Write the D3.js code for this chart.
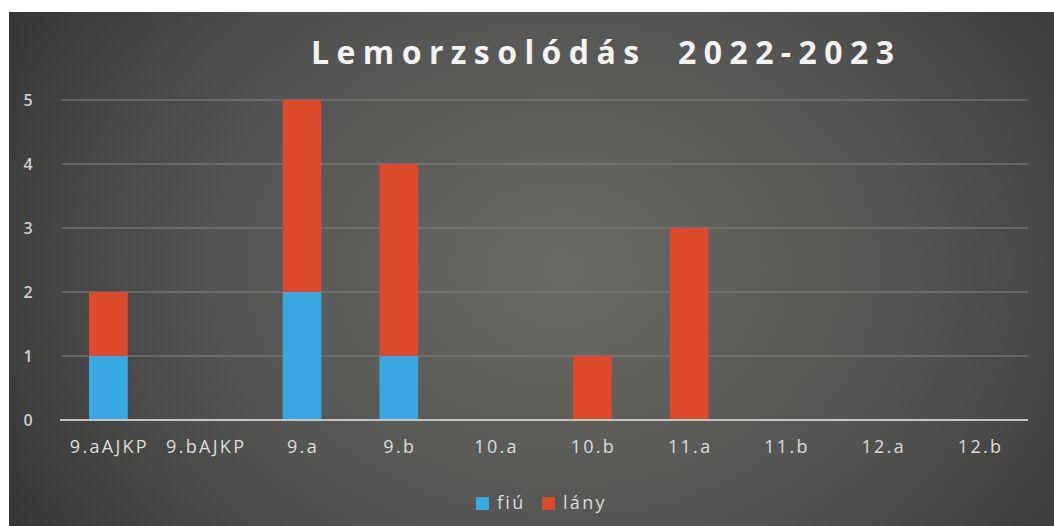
<!DOCTYPE html>
<html><head><meta charset="utf-8">
<script src="https://cdn.jsdelivr.net/npm/d3@7"></script>
<style>html,body{margin:0;padding:0;background:#fff;}svg{display:block;}</style>
</head><body>
<svg id="chart" width="1054" height="526"></svg>
<script>
const categories = ["9.aAJKP","9.bAJKP","9.a","9.b","10.a","10.b","11.a","11.b","12.a","12.b"];
const fiu  = [1,0,2,1,0,0,0,0,0,0];
const lany = [1,0,3,3,0,1,3,0,0,0];
const seriesNames = ["fiú","lány"];
const seriesColors = ["#38a8e0","#dd4a2b"];
const yTicks = [0,1,2,3,4,5];
const title = "Lemorzsolódás  2022-2023";

const W = 1054, H = 526;
const svg = d3.select("#chart");
const defs = svg.append("defs");
const grad = defs.append("radialGradient").attr("id","bg")
  .attr("cx","0.53").attr("cy","0.5").attr("r","0.62")
  .attr("gradientTransform","translate(0.53,0.5) scale(1,1.6) translate(-0.53,-0.5)");
grad.append("stop").attr("offset","0%").attr("stop-color","#696965");
grad.append("stop").attr("offset","55%").attr("stop-color","#545452");
grad.append("stop").attr("offset","100%").attr("stop-color","#363636");

svg.append("rect").attr("x",9).attr("y",12).attr("width",W-9).attr("height",H-12).attr("fill","url(#bg)");

const margin = {left:60, right:26, top:100, bottom:106};
const x = d3.scaleBand().domain(categories).range([margin.left, W-margin.right]).paddingInner(0.6).paddingOuter(0.3);
const y = d3.scaleLinear().domain([0,5]).range([H-margin.bottom, margin.top]);

// gridlines
svg.append("g").selectAll("line").data(yTicks.filter(d=>d>0)).join("line")
  .attr("x1",margin.left+2).attr("x2",W-margin.right)
  .attr("y1",d=>y(d)).attr("y2",d=>y(d))
  .attr("stroke","#82827e").attr("stroke-width",1.2);

// y labels
svg.append("g").selectAll("text").data(yTicks).join("text")
  .attr("x",28).attr("y",d=>y(d)).attr("dy","0.35em")
  .attr("text-anchor","middle").attr("fill","#cfcfcf")
  .style("font-family","'Open Sans',sans-serif").style("font-size","16px").style("font-weight","600")
  .text(d=>d);

// stacked bars
const data = categories.map((c,i)=>({cat:c, fiú:fiu[i], lány:lany[i]}));
const stack = d3.stack().keys(seriesNames)(data);
svg.append("g").selectAll("g").data(stack).join("g")
  .attr("fill",(d,i)=>seriesColors[i])
  .selectAll("rect").data(d=>d.filter(p=>p[1]-p[0]>0)).join("rect")
  .attr("x",d=>x(d.data.cat)).attr("width",x.bandwidth())
  .attr("y",d=>y(d[1])).attr("height",d=>y(d[0])-y(d[1]));

// x axis line
svg.append("line").attr("x1",margin.left).attr("x2",W-margin.right)
  .attr("y1",y(0)).attr("y2",y(0)).attr("stroke","#c4c4c4").attr("stroke-width",2);

// x labels
svg.append("g").selectAll("text").data(categories).join("text")
  .attr("x",d=>x(d)+x.bandwidth()/2 + 1).attr("y",y(0)+27).attr("dy","0.35em")
  .attr("text-anchor","middle").attr("fill","#dcdcdc")
  .style("font-family","'Open Sans',sans-serif").style("font-size","18px")
  .style("letter-spacing","2.3px")
  .text(d=>d);

// title
const t = svg.append("text").attr("x",311).attr("y",64)
  .attr("fill","#f2f2f2")
  .style("font-family","'Open Sans',sans-serif").style("font-size","32px").style("font-weight","700")
  .style("white-space","pre")
  .text(title);
const natural = t.node().getComputedTextLength();
t.style("letter-spacing", ((583 - natural) / (title.length - 1)) + "px");

// legend
const legendX = [476, 542];
const lg = svg.append("g").selectAll("g").data(seriesNames).join("g")
  .attr("transform",(d,i)=>`translate(${legendX[i]},497)`);
lg.append("rect").attr("width",13).attr("height",13).attr("fill",(d,i)=>seriesColors[i]);
lg.append("text").attr("x",21).attr("y",6).attr("dy","0.35em").attr("fill","#dcdcdc")
  .style("font-family","'Open Sans',sans-serif").style("font-size","18px")
  .style("letter-spacing","2.3px")
  .text(d=>d);
</script>
</body></html>
